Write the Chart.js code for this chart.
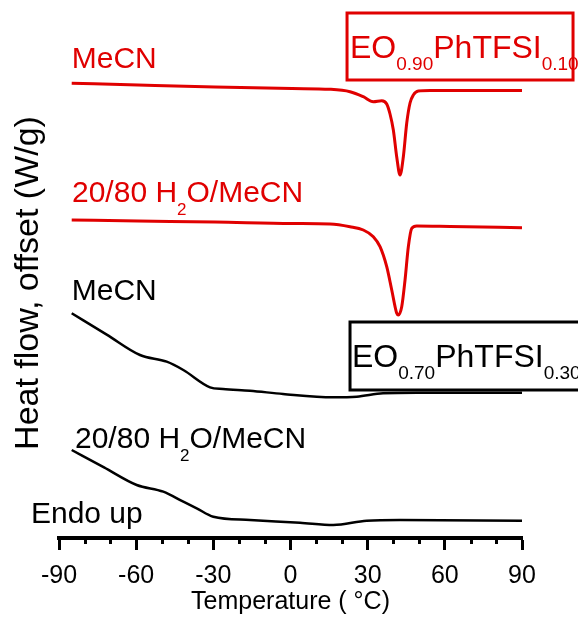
<!DOCTYPE html>
<html>
<head>
<meta charset="utf-8">
<script src="https://cdn.jsdelivr.net/npm/chart.js@4/dist/chart.umd.min.js"></script>
<style>
  html, body { margin: 0; padding: 0; background: #fff; }
  #wrap { width: 578px; height: 619px; }
</style>
</head>
<body>
<div id="wrap"><canvas id="dsc" width="578" height="619"></canvas></div>
<script>
// DSC heating traces (temperature in °C, heat flow offset per trace)
const tempEO90MeCN = [-85.06, -59.28, -29.35, 0.59, 15.37, 23.14, 28.31, 32.2, 35.47, 37.41, 38.69, 39.98, 41.3, 42.58, 43.86, 45.19, 46.47, 47.75, 49.7, 54.25, 90];
const flowEO90MeCN = [4.547, 4.53, 4.511, 4.495, 4.487, 4.463, 4.413, 4.363, 4.373, 4.34, 4.24, 4.08, 3.81, 3.63, 3.81, 4.15, 4.35, 4.43, 4.47, 4.475, 4.475];

const tempEO90Water = [-85.06, -59.28, -29.35, 0.59, 15.37, 23.14, 28.31, 32.2, 34.81, 37.41, 39.36, 41.3, 41.92, 43.24, 44.53, 45.81, 47.13, 49.07, 62.02, 90];
const flowEO90Water = [3.18, 3.17, 3.16, 3.145, 3.14, 3.113, 3.08, 3.013, 2.913, 2.713, 2.48, 2.247, 2.23, 2.313, 2.58, 2.913, 3.097, 3.12, 3.115, 3.103];

const tempEO70MeCN = [-85.06, -71.45, -58.51, -48.13, -41.67, -31.29, -26.24, -15.74, -2.91, 16.53, 25.75, 35.97, 49.07, 90];
const flowEO70MeCN = [2.247, 2.034, 1.83, 1.763, 1.68, 1.507, 1.49, 1.473, 1.44, 1.407, 1.413, 1.447, 1.453, 1.453];

const tempEO70Water = [-85.06, -72.5, -59.79, -49.45, -41.67, -36.46, -30.01, -15.74, 3.7, 16.65, 29.63, 42.58, 90];
const flowEO70Water = [0.88, 0.706, 0.53, 0.463, 0.363, 0.297, 0.213, 0.18, 0.153, 0.13, 0.173, 0.18, 0.173];

const majorTicks = [-90, -60, -30, 0, 30, 60, 90];
const minorTicks = [-80, -70, -50, -40, -20, -10, 10, 20, 40, 50, 70, 80];

const RED = '#e00000';
const BLACK = '#000000';
const FONT = '"Liberation Sans", Arial, Helvetica, sans-serif';

function toPoints(xs, ys) {
  return xs.map((x, i) => ({ x: x, y: ys[i] }));
}

function trace(label, xs, ys, color, width) {
  return {
    label: label,
    data: toPoints(xs, ys),
    borderColor: color,
    borderWidth: width,
    pointRadius: 0,
    fill: false,
    cubicInterpolationMode: 'monotone',
    clip: false
  };
}

// Text with subscript runs: parts = [[text, isSub], ...]
function drawRich(ctx, x, y, parts, size, subSize, subDrop, color) {
  ctx.save();
  ctx.fillStyle = color;
  ctx.textBaseline = 'alphabetic';
  ctx.textAlign = 'left';
  let cx = x;
  for (const [text, sub] of parts) {
    ctx.font = (sub ? subSize : size) + 'px ' + FONT;
    ctx.fillText(text, cx, sub ? y + subDrop : y);
    cx += ctx.measureText(text).width;
  }
  ctx.restore();
}

// Trace labels and sample boxes, positioned in data units
const labels = [
  { t: -85.06, v: 4.70, color: RED,   parts: [['MeCN', false]] },
  { t: -84.95, v: 3.363, color: RED,  parts: [['20/80 H', false], ['2', true], ['O/MeCN', false]] },
  { t: -85.06, v: 2.38, color: BLACK, parts: [['MeCN', false]] },
  { t: -83.78, v: 0.90, color: BLACK, parts: [['20/80 H', false], ['2', true], ['O/MeCN', false]] },
  { t: -100.9, v: 0.15, color: BLACK, parts: [['Endo up', false]] }
];

const boxes = [
  { t0: 21.98, t1: 109.84, vTop: 5.25, vBot: 4.58, textT: 23.14, textV: 4.80, color: RED,
    parts: [['EO', false], ['0.90', true], ['PhTFSI', false], ['0.10', true]] },
  { t0: 23.14, t1: 113.7, vTop: 2.16, vBot: 1.48, textT: 23.9, textV: 1.71, color: BLACK,
    parts: [['EO', false], ['0.70', true], ['PhTFSI', false], ['0.30', true]] }
];

const annotationPlugin = {
  id: 'traceAnnotations',
  afterDraw(chart) {
    const { ctx, scales } = chart;
    const xs = scales.x, ys = scales.y;

    // minor ticks on the temperature axis
    const base = chart.chartArea.bottom;
    ctx.save();
    ctx.strokeStyle = BLACK;
    ctx.lineWidth = 3;
    for (const t of minorTicks) {
      const px = Math.round(xs.getPixelForValue(t)) + 0.5;
      ctx.beginPath();
      ctx.moveTo(px, base);
      ctx.lineTo(px, base + 6);
      ctx.stroke();
    }
    ctx.restore();

    for (const l of labels) {
      drawRich(ctx, xs.getPixelForValue(l.t), ys.getPixelForValue(l.v), l.parts, 30, 17, 13, l.color);
    }

    for (const b of boxes) {
      const x0 = xs.getPixelForValue(b.t0), x1 = xs.getPixelForValue(b.t1);
      const y0 = ys.getPixelForValue(b.vTop), y1 = ys.getPixelForValue(b.vBot);
      ctx.save();
      ctx.strokeStyle = b.color;
      ctx.lineWidth = 3;
      ctx.strokeRect(x0, y0, x1 - x0, y1 - y0);
      ctx.restore();
      drawRich(ctx, xs.getPixelForValue(b.textT), ys.getPixelForValue(b.textV), b.parts, 32, 19, 12, b.color);
    }
  }
};

new Chart(document.getElementById('dsc'), {
  type: 'line',
  data: {
    datasets: [
      trace('EO0.90PhTFSI0.10 MeCN', tempEO90MeCN, flowEO90MeCN, RED, 3),
      trace('EO0.90PhTFSI0.10 20/80 H2O/MeCN', tempEO90Water, flowEO90Water, RED, 3),
      trace('EO0.70PhTFSI0.30 MeCN', tempEO70MeCN, flowEO70MeCN, BLACK, 2.5),
      trace('EO0.70PhTFSI0.30 20/80 H2O/MeCN', tempEO70Water, flowEO70Water, BLACK, 2.5)
    ]
  },
  options: {
    responsive: false,
    animation: false,
    events: [],
    layout: { padding: { left: 8, right: 56, top: 28, bottom: 0 } },
    plugins: {
      legend: { display: false },
      tooltip: { enabled: false },
      title: { display: false }
    },
    scales: {
      x: {
        type: 'linear',
        min: -90,
        max: 90,
        afterBuildTicks(scale) { scale.ticks = majorTicks.map(v => ({ value: v })); },
        afterFit(scale) { scale.height = 81; },
        ticks: {
          color: BLACK,
          font: { family: FONT, size: 25 },
          padding: 11,
          maxRotation: 0
        },
        grid: {
          drawOnChartArea: false,
          tickLength: 12,
          tickWidth: 3,
          tickColor: BLACK
        },
        border: { display: true, color: BLACK, width: 4 },
        title: {
          display: true,
          text: 'Temperature ( °C)',
          color: BLACK,
          font: { family: FONT, size: 25 },
          padding: { top: 0, bottom: 2 }
        }
      },
      y: {
        type: 'linear',
        min: 0,
        max: 5.1,
        afterFit(scale) { scale.width = 51; },
        ticks: { display: false },
        grid: { display: false },
        border: { display: false },
        title: {
          display: true,
          text: 'Heat flow, offset (W/g)',
          color: BLACK,
          font: { family: FONT, size: 34 },
          padding: { top: 0, bottom: 0 }
        }
      }
    }
  },
  plugins: [annotationPlugin]
});
</script>
</body>
</html>
